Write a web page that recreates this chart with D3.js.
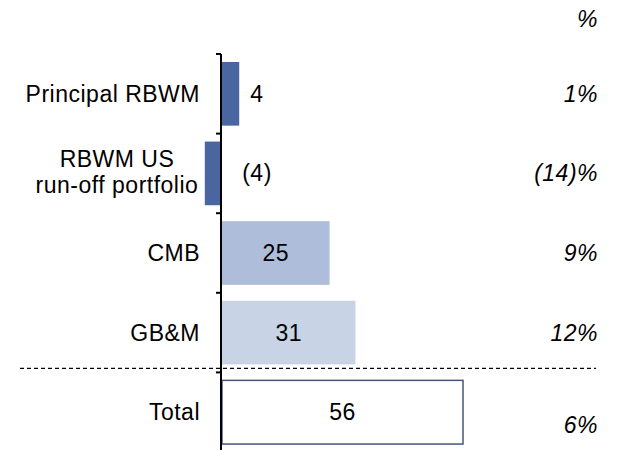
<!DOCTYPE html>
<html>
<head>
<meta charset="utf-8">
<script src="https://cdn.jsdelivr.net/npm/d3@7"></script>
<style>
  body { margin: 0; background: white; }
  text { font-family: "Liberation Sans", Arial, sans-serif; letter-spacing: 0.5px; }
</style>
</head>
<body>
<div id="container"></div>
<script>
let w = 621;
let h = 450;

// DATA
let categories = ["Principal RBWM", "RBWM US\nrun-off portfolio", "CMB", "GB&M", "Total"];
let values = [4, -4, 25, 31, 56];
let valueLabels = ["4", "(4)", "25", "31", "56"];
let pctLabels = ["1%", "(14)%", "9%", "12%", "6%"];
let fills = ["#4a66a0", "#4a66a0", "#adbdda", "#c8d3e6", "white"];

let fs = 23;

let viz = d3.select("#container").append("svg")
    .attr("width", w)
    .attr("height", h)
    .style("background-color", "white");

let x = d3.scaleLinear().domain([0, 56]).range([222, 463]);
let y = d3.scaleBand().domain(categories).range([54, 452])
    .paddingInner(0.2).paddingOuter(0.1);

// dashed separator above total
let sepY = (y(categories[3]) + y.bandwidth() + y(categories[4])) / 2 - 4;
viz.append("line")
    .attr("x1", 20).attr("x2", 596)
    .attr("y1", sepY).attr("y2", sepY)
    .attr("stroke", "black")
    .attr("stroke-width", 1.2)
    .attr("stroke-dasharray", "4,3");

// bars
viz.append("g").selectAll("rect").data(values).enter()
  .append("rect")
    .attr("x", function(d){ return x(Math.min(0, d)); })
    .attr("y", function(d, i){ return y(categories[i]); })
    .attr("width", function(d){ return Math.abs(x(d) - x(0)); })
    .attr("height", y.bandwidth())
    .attr("fill", function(d, i){ return fills[i]; })
    .attr("stroke", function(d, i){ return i == 4 ? "#44577f" : "none"; })
    .attr("stroke-width", 1.5);

// axis with ticks at band boundaries
let axisX = 221;
viz.append("line")
    .attr("x1", axisX).attr("x2", axisX)
    .attr("y1", 54).attr("y2", 452)
    .attr("stroke", "black").attr("stroke-width", 2);
let bounds = categories.map(function(c){ return y(c) - y.step() * y.paddingInner() / 2; });
viz.append("g").selectAll("line").data(bounds).enter()
  .append("line")
    .attr("x1", axisX - 5).attr("x2", axisX)
    .attr("y1", function(d){ return d; }).attr("y2", function(d){ return d; })
    .attr("stroke", "black").attr("stroke-width", 2);

// category labels
categories.forEach(function(c, i){
  let cy = y(c) + y.bandwidth() / 2;
  let lines = c.split("\n");
  if (lines.length == 1) {
    viz.append("text")
      .attr("x", 200).attr("y", cy + 8)
      .attr("text-anchor", "end")
      .attr("font-size", fs)
      .text(c);
  } else {
    lines.forEach(function(l, j){
      viz.append("text")
        .attr("x", 117).attr("y", cy - 6 + j * 26)
        .attr("text-anchor", "middle")
        .attr("font-size", fs)
        .text(l);
    });
  }
});

// value labels
viz.append("g").selectAll("text").data(values).enter()
  .append("text")
    .attr("x", function(d){
      if (Math.abs(d) < 10) return x(0) + 35;
      return (x(0) + x(d)) / 2;
    })
    .attr("y", function(d, i){ return y(categories[i]) + y.bandwidth() / 2 + 8; })
    .attr("text-anchor", "middle")
    .attr("font-size", fs)
    .text(function(d, i){ return valueLabels[i]; });

// percent column
viz.append("text")
    .attr("x", 598).attr("y", 27)
    .attr("text-anchor", "end")
    .attr("font-size", fs)
    .attr("font-style", "italic")
    .text("%");
viz.append("g").selectAll("text").data(pctLabels).enter()
  .append("text")
    .attr("x", 598)
    .attr("y", function(d, i){
      let cy = y(categories[i]) + y.bandwidth() / 2 + 8;
      return i == 4 ? cy + 13 : cy;
    })
    .attr("text-anchor", "end")
    .attr("font-size", fs)
    .attr("font-style", "italic")
    .text(function(d){ return d; });
</script>
</body>
</html>
